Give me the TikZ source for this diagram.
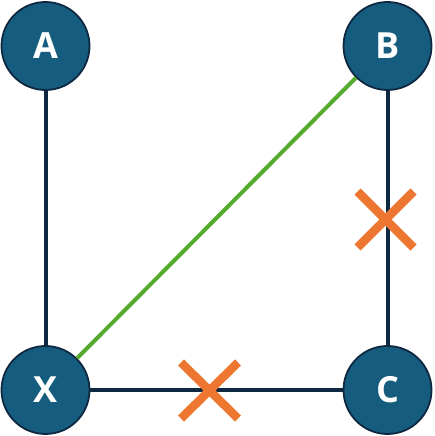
\documentclass[tikz,border=0pt]{standalone}
\usepackage{fontspec}
\setmainfont{Open Sans}
\definecolor{nodefill}{HTML}{155C7E}
\definecolor{navy}{HTML}{0E2841}
\definecolor{grn}{HTML}{55AB2D}
\definecolor{org}{HTML}{ED7631}
\begin{document}
\begin{tikzpicture}[x=1pt,y=1pt,
  vtx/.style={circle,fill=nodefill,draw=navy,line width=1.8pt,minimum size=88pt,inner sep=0pt,
    text=white,font=\fontsize{36}{40}\selectfont\bfseries},
  edge/.style={draw=navy,line width=4pt},
  gedge/.style={draw=grn,line width=4pt},
  xmark/.style={draw=org,line width=8.5pt}]
\useasboundingbox (0,0) rectangle (434,436);
\node[vtx] (A) at (45.5,390) {A};
\node[vtx] (B) at (387.5,390) {B};
\node[vtx] (X) at (45.5,46) {X};
\node[vtx] (C) at (387.5,46) {C};
\draw[edge] (A) -- (X);
\draw[edge] (B) -- (C);
\draw[edge] (X) -- (C);
\draw[gedge] (X) -- (B);
\coordinate (k1) at (385.5,216.5);
\coordinate (k2) at (209.5,45.5);
\draw[xmark,shift={(k1)}] (-28,-28) -- (28,28) (-28,28) -- (28,-28);
\draw[xmark,shift={(k2)}] (-28.5,-28) -- (28.5,28) (-28.5,28) -- (28.5,-28);
\end{tikzpicture}
\end{document}
